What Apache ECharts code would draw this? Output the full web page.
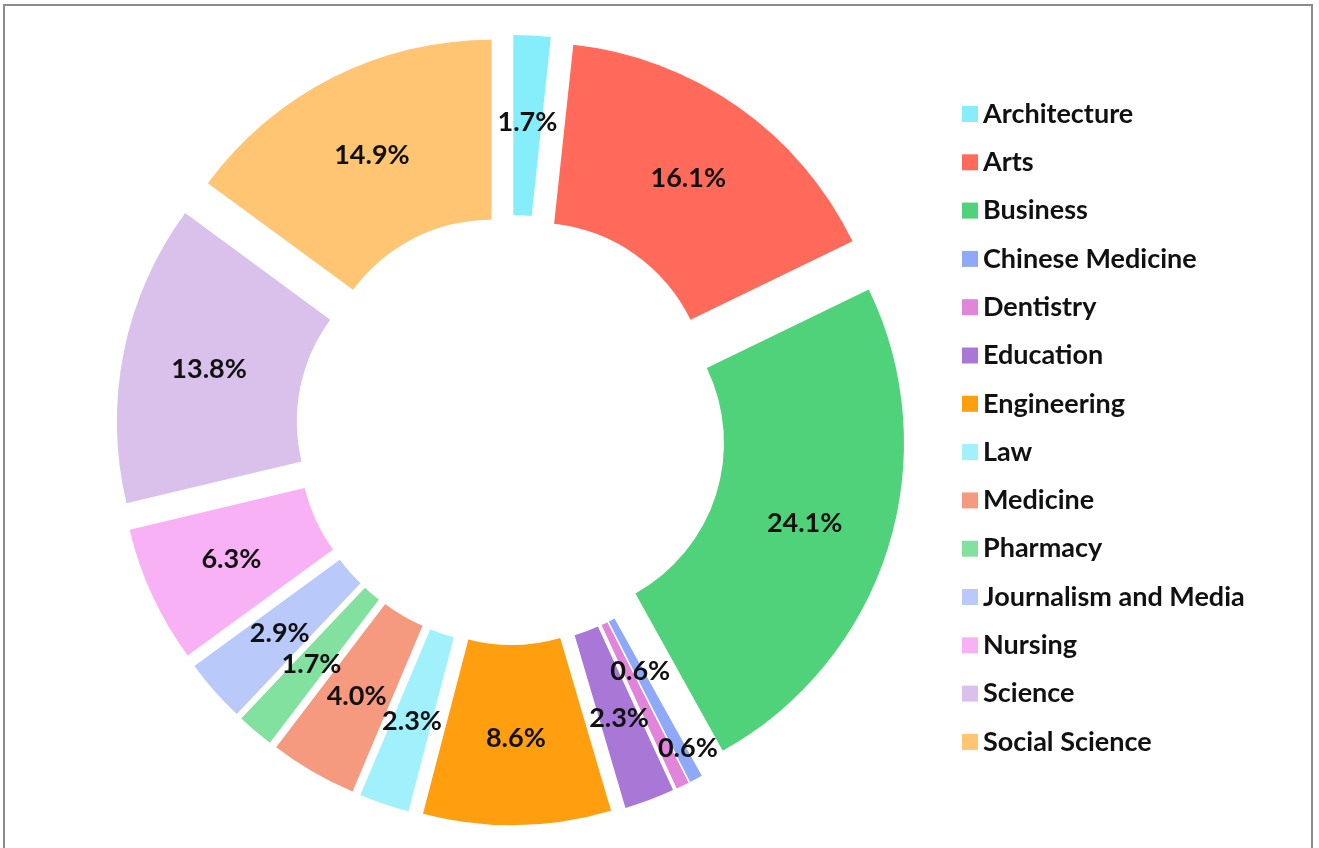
<!DOCTYPE html>
<html>
<head>
<meta charset="utf-8">
<title>Faculty share</title>
<script src="https://cdn.jsdelivr.net/npm/echarts@6/dist/echarts.min.js"></script>
<style>
  html, body { margin: 0; padding: 0; background: #fff; }
  #frame {
    position: absolute; left: 3px; top: 4px; width: 1310px; height: 860px;
    border: 2px solid #8c8c8c; box-sizing: border-box;
  }
  #chart { position: absolute; left: 0; top: 0; width: 1319px; height: 848px; }
</style>
</head>
<body>
<div id="frame"></div>
<div id="chart"></div>
<script>
// share of each faculty, in percent
const faculties = [
  'Architecture', 'Arts', 'Business', 'Chinese Medicine', 'Dentistry',
  'Education', 'Engineering', 'Law', 'Medicine', 'Pharmacy',
  'Journalism and Media', 'Nursing', 'Science', 'Social Science'
];
const shares = [1.7, 16.1, 24.1, 0.6, 0.6, 2.3, 8.6, 2.3, 4.0, 1.7, 2.9, 6.3, 13.8, 14.9];
const colors = [
  '#86EEFB', '#FF6A5A', '#50D27A', '#8DA9F7', '#E085D9', '#A978D7', '#FF9F10',
  '#A0F1FB', '#F69A7F', '#83E1A0', '#B8C9FA', '#F9B1F6', '#D9C1EB', '#FFC572'
];

// Excel pushed these two labels apart so they do not collide
const labelNudge = {
  'Chinese Medicine': [-15, -31],
  'Dentistry': [43, 41]
};

const chart = echarts.init(document.getElementById('chart'));

const option = {
  animation: false,
  color: colors,
  legend: {
    orient: 'vertical',
    left: 957,
    top: 94,
    itemWidth: 16,
    itemHeight: 16,
    itemGap: 18.3,
    icon: 'rect',
    selectedMode: false,
    textStyle: {
      fontFamily: 'Lato',
      fontWeight: 'bold',
      fontSize: 27,
      lineHeight: 30,
      color: '#111'
    },
    data: faculties
  },
  series: [{
    type: 'pie',
    center: [511, 430],
    radius: [172, 352],
    startAngle: 90,
    clockwise: true,
    selectedMode: 'multiple',
    selectedOffset: 43,
    avoidLabelOverlap: false,
    label: {
      show: true,
      position: 'inside',
      fontFamily: 'Lato',
      fontWeight: 'bold',
      fontSize: 27,
      color: '#111',
      formatter: p => p.value.toFixed(1) + '%'
    },
    labelLayout: p => {
      const nudge = labelNudge[faculties[p.dataIndex]] || [0, 0];
      return { hideOverlap: false, dx: nudge[0], dy: nudge[1] };
    },
    labelLine: { show: false },
    emphasis: { disabled: true },
    data: faculties.map((name, i) => ({ name, value: shares[i], selected: true }))
  }]
};

chart.setOption(option);
</script>
</body>
</html>
